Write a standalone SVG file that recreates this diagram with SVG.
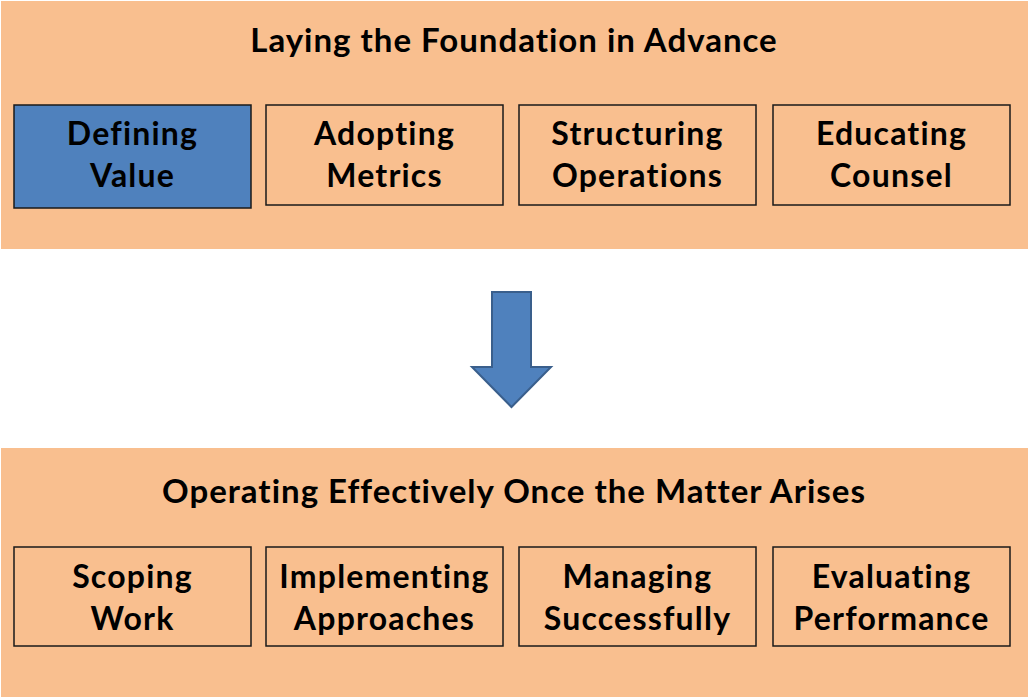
<svg xmlns="http://www.w3.org/2000/svg" width="1029" height="697" viewBox="0 0 1029 697">
<style>
.panel{fill:#F9BF8F;}
.box{fill:#F9BF8F;stroke:#1a1a1a;stroke-width:1.5;}
.sel{fill:#4F81BD;stroke:#1a1a1a;stroke-width:1.5;}
.t{font-family:Lato,"Liberation Sans",sans-serif;font-weight:bold;fill:#000;text-anchor:middle;}
.title{font-size:33px;letter-spacing:1px;}
.lbl{font-size:32px;letter-spacing:1.2px;}
</style>
<rect width="1029" height="697" fill="#ffffff"/>
<g id="panel-top">
<rect class="panel" x="1" y="1" width="1027" height="248"/>
<text class="t title" x="514" y="52">Laying the Foundation in Advance</text>
</g>
<g id="panel-bottom">
<rect class="panel" x="1" y="448" width="1027" height="249"/>
<text class="t title" x="514" y="503">Operating Effectively Once the Matter Arises</text>
</g>
<g id="n-defining"><rect class="sel" x="14" y="105" width="237" height="103"/><text class="t lbl" x="132.5" y="145">Defining</text><text class="t lbl" x="132.5" y="187">Value</text></g>
<g id="n-adopting"><rect class="box" x="266" y="105" width="237" height="100"/><text class="t lbl" x="384.5" y="145">Adopting</text><text class="t lbl" x="384.5" y="187">Metrics</text></g>
<g id="n-structuring"><rect class="box" x="519" y="105" width="237" height="100"/><text class="t lbl" x="637.5" y="145">Structuring</text><text class="t lbl" x="637.5" y="187">Operations</text></g>
<g id="n-educating"><rect class="box" x="773" y="105" width="237" height="100"/><text class="t lbl" x="891.5" y="145">Educating</text><text class="t lbl" x="891.5" y="187">Counsel</text></g>
<g id="n-scoping"><rect class="box" x="14" y="547" width="237" height="99"/><text class="t lbl" x="132.5" y="588">Scoping</text><text class="t lbl" x="132.5" y="630">Work</text></g>
<g id="n-implementing"><rect class="box" x="266" y="547" width="237" height="99"/><text class="t lbl" x="384.5" y="588">Implementing</text><text class="t lbl" x="384.5" y="630">Approaches</text></g>
<g id="n-managing"><rect class="box" x="519" y="547" width="237" height="99"/><text class="t lbl" x="637.5" y="588">Managing</text><text class="t lbl" x="637.5" y="630">Successfully</text></g>
<g id="n-evaluating"><rect class="box" x="773" y="547" width="237" height="99"/><text class="t lbl" x="891.5" y="588">Evaluating</text><text class="t lbl" x="891.5" y="630">Performance</text></g>
<g id="connectors">
<polygon points="492,292 531,292 531,367 551,367 511.5,407 472,367 492,367" fill="#4F81BD" stroke="#3A5F8C" stroke-width="2" stroke-linejoin="miter"/>
</g>
</svg>
